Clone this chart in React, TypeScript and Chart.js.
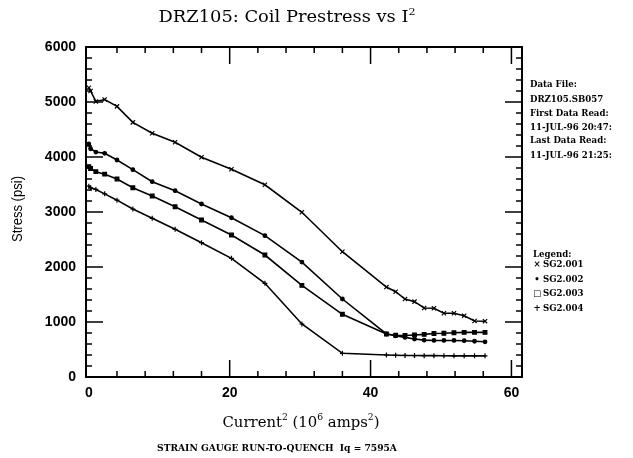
import React, { useEffect, useRef } from "react";
import { Chart, registerables } from "chart.js";
Chart.register(...registerables);

// Current squared (10^6 amps^2)
const currentSq = [0, 0.25, 1, 2.25, 4, 6.25, 9, 12.25, 16, 20.25, 25, 30.25, 36, 42.25, 43.56, 44.89, 46.24, 47.61, 49, 50.41, 51.84, 53.29, 54.76, 56.25];
// Stress (psi)
const sg2001 = [5260, 5200, 5010, 5045, 4920, 4630, 4431, 4267, 3995, 3776, 3495, 2995, 2278, 1635, 1551, 1418, 1370, 1255, 1250, 1158, 1158, 1115, 1018, 1015];
const sg2002 = [4236, 4150, 4090, 4067, 3945, 3770, 3551, 3387, 3145, 2895, 2570, 2090, 1418, 782, 750, 720, 690, 670, 665, 665, 665, 660, 650, 640];
const sg2003 = [3824, 3790, 3733, 3688, 3600, 3440, 3291, 3096, 2855, 2582, 2218, 1665, 1140, 782, 760, 755, 765, 775, 790, 795, 805, 812, 812, 812];
const sg2004 = [3470, 3440, 3410, 3330, 3215, 3055, 2885, 2685, 2442, 2158, 1703, 964, 431, 400, 395, 392, 390, 388, 388, 386, 385, 385, 385, 385];

const seriesLabels = ["SG2.001", "SG2.002", "SG2.003", "SG2.004"];
const legendGlyphs = ["×", "•", "□", "+"];
const xTicks = [0, 20, 40, 60];
const yTicks = [0, 1000, 2000, 3000, 4000, 5000, 6000];
const xMinorStep = 4;
const yMinorStep = 200;
const infoLines = ["Data File:", "DRZ105.SB057", "First Data Read:", "11-JUL-96 20:47:", "Last Data Read:", "11-JUL-96 21:25:"];
const captionText = "STRAIN GAUGE RUN-TO-QUENCH  Iq = 7595A";

function fitFont(ctx: CanvasRenderingContext2D, text: string, weight: string, family: string, target: number, base = 16) {
  ctx.font = `${weight} ${base}px ${family}`;
  const w = ctx.measureText(text).width;
  return (base * target) / w;
}

// draw text with superscripts, horizontally scaled to a target width
function drawRich(ctx: CanvasRenderingContext2D, parts: [string, boolean][], cx: number, baseline: number, size: number, family: string, target: number, weight = "normal") {
  const supSize = size * 0.62;
  let total = 0;
  const widths = parts.map(([t, sup]) => {
    ctx.font = `${weight} ${sup ? supSize : size}px ${family}`;
    const w = ctx.measureText(t).width;
    total += w;
    return w;
  });
  const sx = target / total;
  ctx.save();
  ctx.translate(cx - target / 2, baseline);
  ctx.scale(sx, 1);
  let x = 0;
  ctx.textAlign = "left";
  ctx.textBaseline = "alphabetic";
  parts.forEach(([t, sup], i) => {
    ctx.font = `${weight} ${sup ? supSize : size}px ${family}`;
    ctx.fillText(t, x, sup ? -size * 0.45 : 0);
    x += widths[i];
  });
  ctx.restore();
}

const framePlugin = {
  id: "framePlugin",
  afterDraw(chart: any) {
    const { ctx, chartArea: a, scales } = chart;
    const xs = scales.x;
    const ys = scales.y;
    ctx.save();
    ctx.strokeStyle = "#000";
    ctx.fillStyle = "#000";
    ctx.lineWidth = 2;
    ctx.strokeRect(a.left, a.top, a.right - a.left, a.bottom - a.top);
    ctx.lineWidth = 1.5;
    const majorLen = 17;
    const minorLen = 6;
    for (let v = xTicks[0]; v <= xs.max; v += xMinorStep) {
      const px = xs.getPixelForValue(v);
      if (px < a.left + 3 || px > a.right - 3) continue;
      const len = xTicks.includes(v) ? majorLen : minorLen;
      ctx.beginPath();
      ctx.moveTo(px, a.bottom);
      ctx.lineTo(px, a.bottom - len);
      ctx.moveTo(px, a.top);
      ctx.lineTo(px, a.top + len);
      ctx.stroke();
    }
    for (let v = yTicks[0]; v <= ys.max; v += yMinorStep) {
      const py = ys.getPixelForValue(v);
      if (py > a.bottom - 3 || py < a.top + 3) continue;
      const len = yTicks.includes(v) ? majorLen : minorLen;
      ctx.beginPath();
      ctx.moveTo(a.left, py);
      ctx.lineTo(a.left + len, py);
      ctx.moveTo(a.right, py);
      ctx.lineTo(a.right - len, py);
      ctx.stroke();
    }

    const serif = "'DejaVu Serif'";
    drawRich(ctx, [["DRZ105: Coil Prestress vs I", false], ["2", true]], 287, 22, 16, serif, 257);
    drawRich(ctx, [["Current", false], ["2", true], [" (10", false], ["6", true], [" amps", false], ["2", true], [")", false]], 301, 427, 15.5, serif, 157);

    // Caption
    const capSize = fitFont(ctx, captionText, "bold", serif, 240);
    ctx.font = `bold ${capSize}px ${serif}`;
    ctx.textAlign = "center";
    ctx.textBaseline = "middle";
    ctx.fillText(captionText, 277, 449);

    // Y title
    ctx.save();
    ctx.translate(18, 209);
    ctx.rotate(-Math.PI / 2);
    ctx.font = `14px 'Liberation Sans'`;
    const w = ctx.measureText("Stress (psi)").width;
    ctx.scale(66 / w, 1);
    ctx.textAlign = "center";
    ctx.textBaseline = "middle";
    ctx.fillText("Stress (psi)", 0, 0);
    ctx.restore();

    // Info block
    const infoSize = fitFont(ctx, "11-JUL-96 20:47:", "bold", serif, 82);
    ctx.font = `bold ${infoSize}px ${serif}`;
    ctx.textAlign = "left";
    ctx.textBaseline = "middle";
    const infoY = [85, 100, 113.5, 127.5, 141, 156];
    infoLines.forEach((t, i) => ctx.fillText(t, 530, infoY[i]));

    // Legend
    ctx.fillText("Legend:", 533, 255);
    const legY = [265, 279.5, 294, 308.5];
    seriesLabels.forEach((t, i) => {
      ctx.textAlign = "center";
      ctx.fillText(legendGlyphs[i], 537, legY[i]);
      ctx.textAlign = "left";
      ctx.fillText(t, 543, legY[i]);
    });
    ctx.restore();
  },
};

export default function App() {
  const ref = useRef<HTMLCanvasElement | null>(null);
  useEffect(() => {
    if (!ref.current) return;
    const mk = (label: string, data: number[], style: string, r: number) => ({
      label,
      data: currentSq.map((x, i) => ({ x, y: data[i] })),
      borderColor: "#000",
      backgroundColor: "#000",
      borderWidth: 1.6,
      pointStyle: style,
      pointRadius: r,
      pointBorderWidth: 1.2,
      pointBorderColor: "#000",
      pointBackgroundColor: "#000",
      tension: 0,
    });
    const tickFont = { family: "'Liberation Sans'", size: 14, weight: "bold" };
    const chart = new Chart(ref.current, {
      type: "line",
      data: {
        datasets: [
          mk(seriesLabels[0], sg2001, "crossRot", 3),
          mk(seriesLabels[1], sg2002, "circle", 1.8),
          mk(seriesLabels[2], sg2003, "rect", 2.6),
          mk(seriesLabels[3], sg2004, "cross", 2.5),
        ],
      },
      options: {
        animation: false,
        responsive: false,
        layout: { padding: { left: 0, right: 111, top: 47, bottom: 0 } },
        plugins: { legend: { display: false }, tooltip: { enabled: false }, title: { display: false } },
        scales: {
          x: {
            type: "linear",
            min: -0.4,
            max: 61.5,
            grid: { display: false, drawTicks: false },
            border: { display: false },
            afterBuildTicks: (s: any) => { s.ticks = xTicks.map((v) => ({ value: v })); },
            afterFit: (s: any) => { s.height = 81; },
            ticks: { padding: 8, color: "#000", font: tickFont, maxRotation: 0, callback: (v: any) => String(v) },
          },
          y: {
            type: "linear",
            min: 0,
            max: 6000,
            grid: { display: false, drawTicks: false },
            border: { display: false },
            afterBuildTicks: (s: any) => { s.ticks = yTicks.map((v) => ({ value: v })); },
            afterFit: (s: any) => { s.width = 86; },
            ticks: { padding: 10, color: "#000", font: tickFont, callback: (v: any) => String(v) },
          },
        },
      },
      plugins: [framePlugin],
    } as any);
    return () => chart.destroy();
  }, []);
  return (
    <div style={{ position: "fixed", left: 0, top: 0, width: 633, height: 458, background: "#fff" }}>
      <canvas ref={ref} width={633} height={458} style={{ display: "block" }} />
    </div>
  );
}
